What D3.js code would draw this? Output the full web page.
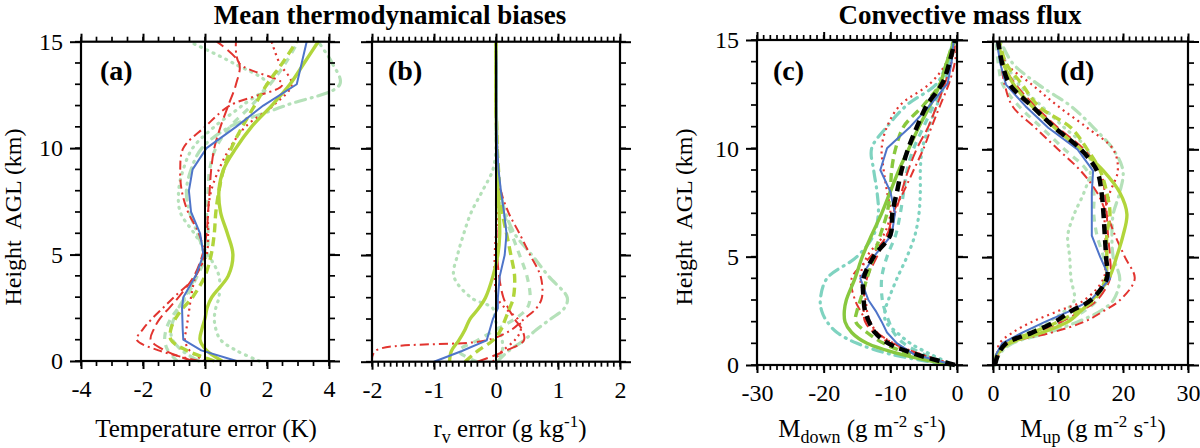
<!DOCTYPE html>
<html>
<head>
<meta charset="utf-8">
<script src="https://cdn.jsdelivr.net/npm/d3@7"></script>
<style>
  body { margin: 0; background: #fff; }
  svg { display: block; font-family: "Liberation Serif", "Times New Roman", serif; }
</style>
</head>
<body>
<svg id="chart" width="1200" height="448"></svg>
<script>
// Height levels (km AGL) shared by every profile
const heights = [0, 0.5, 1, 1.5, 2, 2.5, 3, 4, 5, 6, 7, 8, 9, 10, 11, 12, 13, 14, 15];

// Tick labels
const heightTicks = [0, 5, 10, 15];
const tempTicks = [-4, -2, 0, 2, 4];
const rvTicks = [-2, -1, 0, 1, 2];
const mdownTicks = [-30, -20, -10, 0];
const mupTicks = [0, 10, 20, 30];

// (a) temperature error (K)
const tempBlue       = [1.02, -0.12, -0.7, -0.72, -0.73, -0.74, -0.7, -0.3, -0.05, -0.16, -0.45, -0.52, -0.4, 0.05, 1.0, 1.88, 2.96, 3.12, 3.28];
const tempYgSolid    = [0.55, 0.05, -0.16, -0.1, 0.0, 0.07, 0.22, 0.75, 0.9, 0.72, 0.5, 0.45, 0.6, 1.0, 1.5, 2.15, 2.74, 3.2, 3.65];
const tempYgDash     = [0.3, -0.6, -1.1, -1.1, -0.95, -0.7, -0.4, 0.0, 0.2, 0.3, 0.35, 0.45, 0.6, 0.85, 1.2, 1.6, 2.0, 2.5, 2.95];
const tempRedDashDot = [-0.2, -1.5, -2.2, -2.0, -1.7, -1.35, -1.0, -0.3, -0.05, -0.2, -0.55, -0.75, -0.8, -0.7, 0.0, 0.8, 2.5, 1.1, 1.0];
const tempRedDot     = [0.0, -0.5, -0.65, -0.6, -0.55, -0.5, -0.45, -0.3, 0.05, 0.1, 0.1, 0.2, 0.45, 0.8, 1.3, 2.2, 2.8, 2.4, 2.15];
const tempRedDash    = [-0.4, -1.3, -1.75, -1.65, -1.45, -1.15, -0.85, -0.35, -0.08, 0.05, 0.1, 0.15, 0.2, 0.3, 0.5, 0.75, 1.0, 1.1, 0.38];
const tempLgDot      = [1.75, 1.0, 0.5, 0.35, 0.3, 0.35, 0.45, 0.45, 0.1, -0.35, -0.8, -0.85, -0.7, -0.4, 0.3, 1.2, 2.0, 0.9, -0.5];
const tempLgDashDot  = [-0.2, -0.75, -1.05, -1.1, -1.0, -0.85, -0.65, -0.3, -0.05, -0.25, -0.5, -0.6, -0.45, -0.1, 0.8, 2.6, 4.35, 4.1, 3.65];
const tempLgDash     = [-0.9, -1.2, -1.3, -1.25, -1.1, -0.85, -0.6, -0.25, 0.05, 0.1, 0.05, 0.1, 0.15, 0.35, 0.8, 1.5, 2.1, 2.6, 3.0];

// (b) water vapour mixing ratio error (g/kg)
const rvBlue       = [-1.0, -0.55, -0.15, -0.1, -0.05, 0.03, 0.03, 0.06, 0.14, 0.17, 0.13, 0.08, 0.04, 0.02, 0.01, 0.01, 0.01, 0.01, 0.0];
const rvYgSolid    = [-0.75, -0.72, -0.6, -0.5, -0.42, -0.28, -0.17, -0.05, 0.03, 0.06, 0.05, 0.03, 0.02, 0.01, 0.01, 0.0, 0.0, 0.0, 0.0];
const rvYgDash     = [-0.5, -0.3, -0.05, 0.08, 0.15, 0.22, 0.28, 0.3, 0.24, 0.17, 0.1, 0.06, 0.04, 0.02, 0.01, 0.0, 0.0, 0.0, 0.0];
const rvRedDashDot = [-2.0, -1.95, -0.15, 0.25, 0.45, 0.65, 0.74, 0.72, 0.55, 0.38, 0.2, 0.08, 0.04, 0.02, 0.01, 0.0, 0.0, 0.0, 0.0];
const rvRedDot     = [-0.05, 0.1, 0.3, 0.4, 0.35, 0.15, 0.02, -0.02, -0.02, 0.0, 0.03, 0.05, 0.03, 0.01, 0.0, 0.0, 0.0, 0.0, 0.0];
const rvRedDash    = [-0.3, 0.15, 0.45, 0.42, 0.3, 0.2, 0.12, 0.05, 0.02, 0.01, 0.0, 0.0, 0.0, 0.0, 0.0, 0.0, 0.0, 0.0, 0.0];
const rvLgDot      = [0.0, 0.1, 0.1, 0.05, -0.02, -0.05, -0.4, -0.68, -0.62, -0.52, -0.4, -0.22, -0.05, 0.0, 0.0, 0.0, 0.0, 0.0, 0.0];
const rvLgDashDot  = [0.02, 0.2, 0.45, 0.65, 0.88, 1.1, 1.15, 0.85, 0.58, 0.3, 0.15, 0.07, 0.03, 0.01, 0.0, 0.0, 0.0, 0.0, 0.0];
const rvLgDash     = [-0.3, -0.6, -0.3, 0.0, 0.3, 0.5, 0.55, 0.5, 0.38, 0.25, 0.12, 0.05, 0.02, 0.01, 0.0, 0.0, 0.0, 0.0, 0.0];

// (c) downdraft mass flux (g m-2 s-1)
const mdownBlue       = [-0.5, -6.5, -9.0, -10.5, -11.3, -12.2, -13.3, -14.5, -12.5, -9.8, -9.3, -10.0, -11.5, -10.5, -7.0, -4.0, -1.4, -0.8, -0.5];
const mdownYgSolid    = [-0.8, -8.5, -13.5, -15.8, -16.8, -16.9, -16.6, -15.3, -14.2, -12.8, -11.3, -10.0, -8.7, -7.2, -5.7, -4.0, -2.5, -1.5, -0.3];
const mdownYgDash     = [-0.8, -7.0, -11.0, -13.5, -15.2, -15.0, -14.5, -13.5, -12.5, -11.5, -10.5, -10.0, -9.8, -9.2, -8.0, -5.0, -2.5, -1.5, -0.5];
const mdownRedDashDot = [-0.2, -5.5, -9.5, -12.0, -13.5, -14.5, -15.3, -15.8, -13.0, -10.5, -9.6, -8.0, -6.5, -5.0, -3.8, -2.5, -1.2, -0.3, 0.0];
const mdownRedDot     = [-0.3, -5.5, -9.5, -12.0, -13.0, -13.5, -13.7, -14.5, -13.5, -11.0, -10.0, -10.5, -11.0, -11.3, -10.5, -8.5, -4.0, -1.5, -0.5];
const mdownRedDash    = [-0.3, -6.0, -10.0, -12.5, -13.8, -14.0, -14.0, -13.5, -12.0, -10.5, -9.3, -8.3, -7.3, -6.0, -4.3, -3.0, -1.8, -0.8, -0.2];
const mdownLgDot      = [-0.5, -4.0, -7.0, -9.0, -10.7, -10.8, -10.3, -9.0, -7.5, -6.3, -5.7, -5.5, -5.5, -5.2, -4.2, -3.0, -1.8, -1.0, -0.4];
const mdownLgDashDot  = [-1.0, -10.0, -15.0, -18.0, -19.5, -20.3, -20.5, -19.5, -15.0, -12.5, -11.8, -12.0, -12.5, -12.8, -10.5, -7.5, -3.0, -1.5, -0.5];
const mdownLgDash     = [-0.5, -5.0, -8.0, -9.5, -10.2, -10.8, -11.2, -11.3, -10.5, -9.2, -8.5, -8.0, -7.5, -6.5, -5.0, -3.5, -2.0, -1.2, -0.5];
const mdownBlack      = [-0.3, -6.2, -10.3, -12.3, -13.2, -13.8, -14.0, -14.0, -12.5, -10.0, -9.7, -9.0, -8.3, -7.3, -6.0, -4.5, -2.2, -1.1, -0.3];

// (d) updraft mass flux (g m-2 s-1)
const mupBlue       = [0.2, 0.5, 1.4, 4.5, 8.0, 11.8, 15.0, 18.0, 16.5, 15.2, 15.2, 15.2, 15.4, 13.0, 8.5, 5.0, 2.0, 1.1, 0.6];
const mupYgSolid    = [0.2, 0.6, 2.5, 7.5, 11.5, 13.5, 15.2, 17.8, 19.0, 20.0, 20.6, 19.5, 17.0, 13.5, 9.5, 6.0, 3.2, 1.6, 0.8];
const mupYgDash     = [0.3, 0.8, 2.2, 6.0, 10.0, 13.0, 15.5, 17.3, 17.5, 17.5, 18.0, 17.5, 16.5, 14.5, 12.0, 7.0, 4.5, 2.0, 1.0];
const mupRedDashDot = [0.3, 0.8, 2.5, 9.0, 14.0, 17.0, 19.5, 21.8, 20.3, 18.8, 17.5, 16.0, 13.5, 10.0, 6.5, 3.0, 1.8, 1.2, 0.6];
const mupRedDot     = [0.2, 0.6, 1.0, 3.0, 6.0, 10.0, 14.0, 17.0, 17.3, 17.3, 17.2, 18.0, 19.2, 18.5, 14.5, 10.0, 6.0, 2.0, 0.8];
const mupRedDash    = [0.3, 0.9, 2.2, 6.5, 10.5, 13.5, 16.0, 18.0, 18.0, 17.7, 17.5, 17.2, 16.5, 14.0, 10.0, 6.5, 3.5, 1.5, 0.8];
const mupLgDot      = [0.3, 0.8, 2.0, 5.0, 8.5, 11.0, 12.5, 12.0, 11.8, 11.5, 12.5, 14.0, 15.0, 14.5, 11.0, 7.5, 4.0, 2.0, 1.0];
const mupLgDashDot  = [0.3, 1.0, 3.0, 8.5, 13.0, 16.5, 18.5, 19.5, 18.5, 18.3, 18.5, 19.5, 20.0, 18.5, 15.5, 12.0, 7.0, 3.0, 1.2];
const mupLgDash     = [0.3, 0.8, 2.5, 7.0, 11.0, 14.0, 16.0, 17.5, 17.0, 16.0, 15.5, 15.5, 14.5, 11.0, 7.5, 4.0, 1.5, 0.8, 0.5];
const mupBlack      = [0.3, 0.8, 2.0, 6.0, 9.5, 12.0, 15.0, 17.5, 17.4, 17.2, 17.0, 16.7, 16.0, 13.5, 9.5, 6.0, 2.6, 1.4, 0.8];

// Line styles for each experiment
const styles = {
    lgDot:      { color: '#b5e1b9', width: 3.2, dash: '1,6', cap: 'round' },
    lgDashDot:  { color: '#b5e1b9', width: 3.2, dash: '10,6,1,6', cap: 'round' },
    lgDash:     { color: '#b5e1b9', width: 3.2, dash: '7,6' },
    redDot:     { color: '#e2342f', width: 2.2, dash: '2,4' },
    redDash:    { color: '#e2342f', width: 2,   dash: '11,5' },
    redDashDot: { color: '#e2342f', width: 2,   dash: '9,4,2,4' },
    ygDash:     { color: '#b1d53b', width: 3.4, dash: '9,5' },
    ygSolid:    { color: '#b1d53b', width: 3.4, dash: null },
    blue:       { color: '#4e74c9', width: 2,   dash: null },
    black:      { color: '#000000', width: 4.5, dash: '10,6' }
};
const drawOrder = ['lgDot', 'lgDashDot', 'lgDash', 'redDot', 'redDash', 'redDashDot', 'ygDash', 'ygSolid', 'blue', 'black'];

const panels = [
    {
        tag: '(a)', box: { l: 81, r: 329, t: 41.7, b: 361 }, domain: [-4, 4], ticks: tempTicks, minorStep: 0.5,
        zeroLine: true, yTitleX: 21, labelX: 206, label: [['Temperature error (K)']],
        colors: {},
        series: { blue: tempBlue, ygSolid: tempYgSolid, ygDash: tempYgDash, redDashDot: tempRedDashDot, redDot: tempRedDot,
                  redDash: tempRedDash, lgDot: tempLgDot, lgDashDot: tempLgDashDot, lgDash: tempLgDash }
    },
    {
        tag: '(b)', box: { l: 372, r: 620, t: 41.7, b: 361.7 }, domain: [-2, 2], ticks: rvTicks, minorStep: 0.1,
        zeroLine: true, yTitleX: null, labelX: 510, label: [['r'], ['v', 'sub'], [' error (g kg'], ['-1', 'sup'], [')']],
        colors: {},
        series: { blue: rvBlue, ygSolid: rvYgSolid, ygDash: rvYgDash, redDashDot: rvRedDashDot, redDot: rvRedDot,
                  redDash: rvRedDash, lgDot: rvLgDot, lgDashDot: rvLgDashDot, lgDash: rvLgDash }
    },
    {
        tag: '(c)', box: { l: 757, r: 957, t: 40, b: 365 }, domain: [-30, 0], ticks: mdownTicks, minorStep: 1,
        zeroLine: false, yTitleX: 692, labelX: 862, label: [['M'], ['down', 'sub'], [' (g m'], ['-2', 'sup'], [' s'], ['-1', 'sup'], [')']],
        colors: { ygSolid: '#88c83e', ygDash: '#88c83e', lgDot: '#7fd3c0', lgDashDot: '#7fd3c0', lgDash: '#7fd3c0' },
        series: { blue: mdownBlue, ygSolid: mdownYgSolid, ygDash: mdownYgDash, redDashDot: mdownRedDashDot, redDot: mdownRedDot,
                  redDash: mdownRedDash, lgDot: mdownLgDot, lgDashDot: mdownLgDashDot, lgDash: mdownLgDash, black: mdownBlack }
    },
    {
        tag: '(d)', box: { l: 993, r: 1188, t: 41.5, b: 365 }, domain: [0, 30], ticks: mupTicks, minorStep: 1,
        zeroLine: false, yTitleX: null, labelX: 1093, label: [['M'], ['up', 'sub'], [' (g m'], ['-2', 'sup'], [' s'], ['-1', 'sup'], [')']],
        colors: {},
        series: { blue: mupBlue, ygSolid: mupYgSolid, ygDash: mupYgDash, redDashDot: mupRedDashDot, redDot: mupRedDot,
                  redDash: mupRedDash, lgDot: mupLgDot, lgDashDot: mupLgDashDot, lgDash: mupLgDash, black: mupBlack }
    }
];

const svg = d3.select('#chart');

// Group titles
svg.append('text').attr('x', 390).attr('y', 24).attr('text-anchor', 'middle')
    .attr('font-size', '27px').attr('font-weight', 'bold').text('Mean thermodynamical biases');
svg.append('text').attr('x', 960).attr('y', 24).attr('text-anchor', 'middle')
    .attr('font-size', '27px').attr('font-weight', 'bold').text('Convective mass flux');

panels.forEach(p => drawPanel(p));

function drawPanel(p) {
    const { l, r, t, b } = p.box;
    const x = d3.scaleLinear().domain(p.domain).range([l, r]);
    const y = d3.scaleLinear().domain([0, 15]).range([b, t]);
    const g = svg.append('g');

    // Profiles
    const line = d3.line().x(d => x(d[0])).y(d => y(d[1]));
    drawOrder.filter(k => p.series[k]).forEach(k => {
        const s = styles[k];
        const pts = p.series[k].map((v, i) => [v, heights[i]]);
        g.append('path')
            .datum(pts)
            .attr('fill', 'none')
            .attr('stroke', p.colors[k] || s.color)
            .attr('stroke-width', s.width)
            .attr('stroke-dasharray', s.dash)
            .attr('stroke-linecap', s.cap || 'butt')
            .attr('stroke-linejoin', 'round')
            .attr('d', line.curve(k === 'blue' ? d3.curveLinear : d3.curveCatmullRom.alpha(0.5)));
    });

    // Zero line
    if (p.zeroLine) {
        g.append('line').attr('x1', x(0)).attr('x2', x(0)).attr('y1', t).attr('y2', b)
            .attr('stroke', '#000').attr('stroke-width', 2);
    }

    // Minor ticks on all four sides, pointing outward
    const minorX = d3.range(p.domain[0], p.domain[1] + p.minorStep / 2, p.minorStep);
    const minorY = d3.range(0, 16, 1);
    const ticks = g.append('g').attr('stroke', '#000').attr('stroke-width', 1.7);
    [[b, 1], [t, -1]].forEach(([yy, dir]) => {
        ticks.append('g').selectAll('line').data(minorX).enter().append('line')
            .attr('x1', d => x(d)).attr('x2', d => x(d))
            .attr('y1', yy).attr('y2', yy + dir * 5);
    });
    [[l, -1], [r, 1]].forEach(([xx, dir]) => {
        ticks.append('g').selectAll('line').data(minorY).enter().append('line')
            .attr('y1', d => y(d)).attr('y2', d => y(d))
            .attr('x1', xx).attr('x2', xx + dir * 6);
    });

    // Major ticks and labels through d3 axes
    const addAxis = (axis, tx, ty) => {
        const a = g.append('g').attr('transform', `translate(${tx},${ty})`).call(axis);
        a.select('.domain').remove();
        a.selectAll('line').attr('stroke', '#000').attr('stroke-width', 2);
        a.selectAll('text').attr('font-size', '24px').attr('fill', '#000');
        a.attr('font-family', null).attr('font-size', null);
        return a;
    };
    addAxis(d3.axisBottom(x).tickValues(p.ticks).tickSize(8).tickPadding(11).tickFormat(d => String(d)), 0, b);
    addAxis(d3.axisTop(x).tickValues(p.ticks).tickSize(8).tickFormat(() => ''), 0, t);
    addAxis(d3.axisLeft(y).tickValues(heightTicks).tickSize(11).tickPadding(7)
        .tickFormat(p.yTitleX !== null ? d => String(d) : () => ''), l, 0);
    addAxis(d3.axisRight(y).tickValues(heightTicks).tickSize(11).tickFormat(() => ''), r, 0);

    // Frame
    g.append('rect').attr('x', l).attr('y', t).attr('width', r - l).attr('height', b - t)
        .attr('fill', 'none').attr('stroke', '#000').attr('stroke-width', 2.2);

    // Panel tag
    g.append('text').attr('x', l + (p.tag === '(a)' ? 19 : p.tag === '(d)' ? 67 : 16)).attr('y', 80)
        .attr('font-size', '28px').attr('font-weight', 'bold').text(p.tag);

    // Y title
    if (p.yTitleX !== null) {
        g.append('text')
            .attr('transform', `translate(${p.yTitleX},217) rotate(-90)`)
            .attr('text-anchor', 'middle').attr('font-size', '24px')
            .style('white-space', 'pre')
            .text('Height  AGL (km)');
    }

    // X title with sub/superscripts; dy is relative, so undo the previous shift each time
    const xt = g.append('text').attr('x', p.labelX).attr('y', 437)
        .attr('text-anchor', 'middle').attr('font-size', '25px');
    let shift = 0;
    p.label.forEach(([txt, kind]) => {
        const want = kind === 'sub' ? 6 : kind === 'sup' ? -10 : 0;
        const span = xt.append('tspan').text(txt).attr('dy', want - shift);
        if (kind) span.attr('font-size', kind === 'sub' ? '18px' : '17px');
        shift = want;
    });
}
</script>
</body>
</html>
